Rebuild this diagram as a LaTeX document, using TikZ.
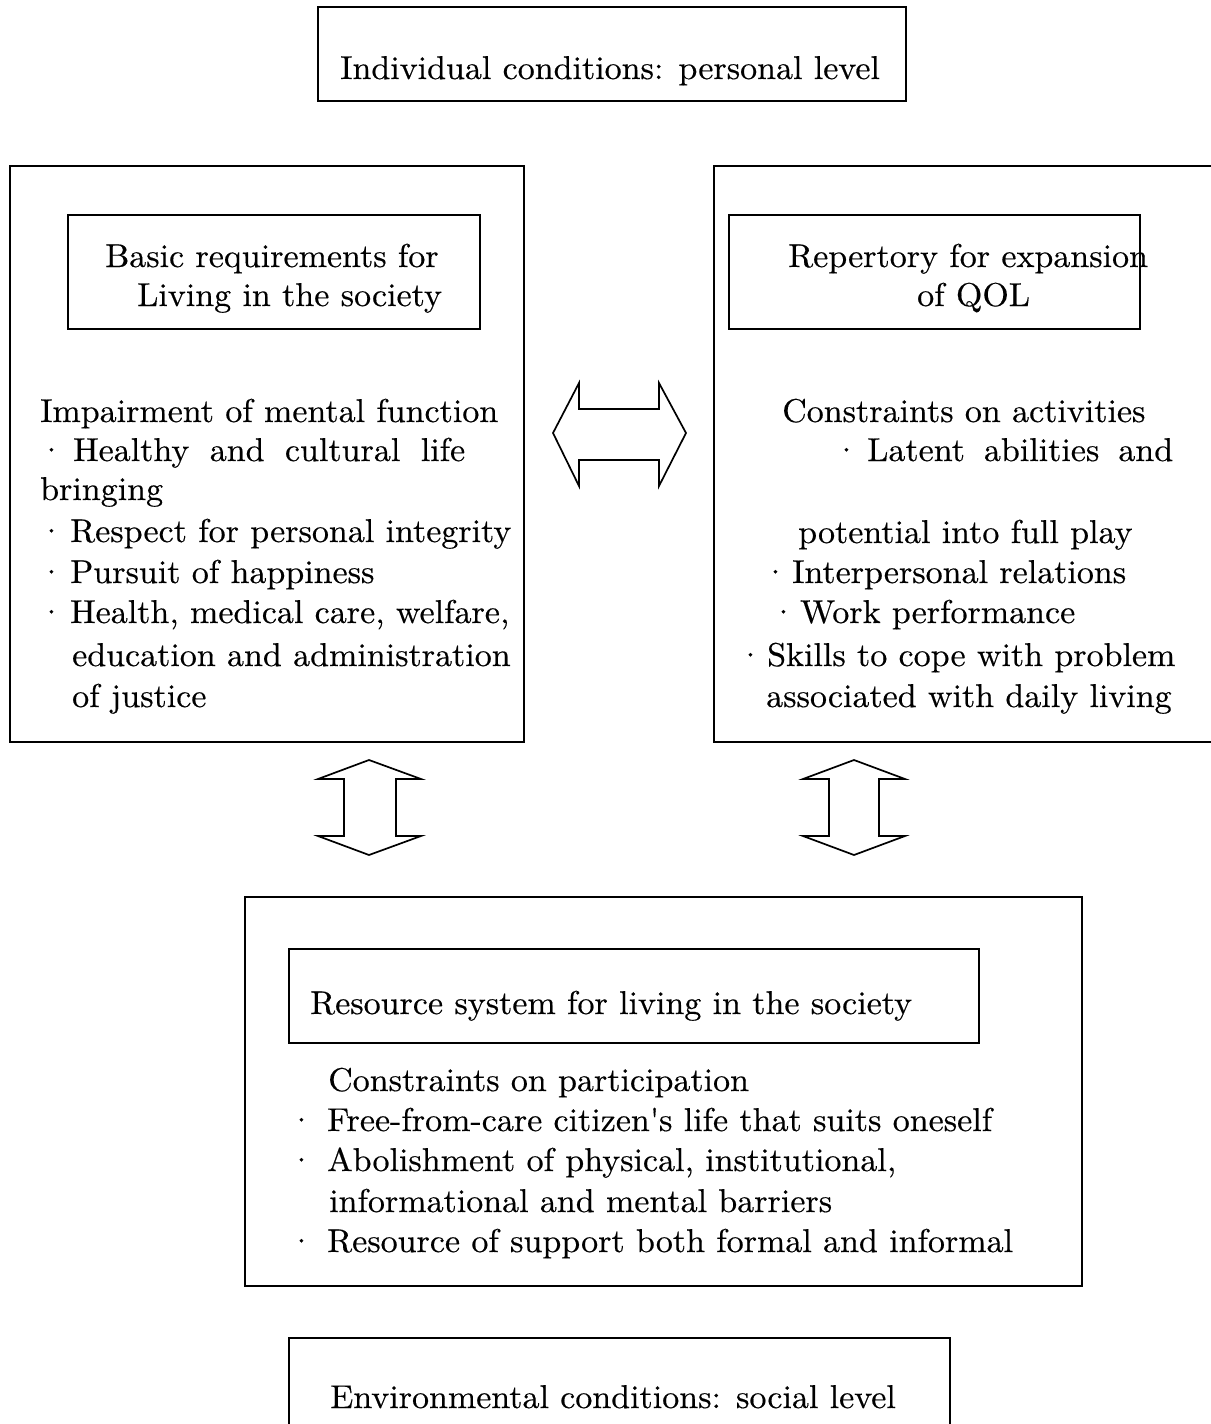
\documentclass[tikz,border=0pt]{standalone}
\usepackage{fontspec}
\setmainfont{lmroman10-regular.otf}[FakeStretch=1.03, FakeBold=0.4]
\newcommand\dotpre[1]{\makebox[#1][l]{·}}
\begin{document}
\begin{tikzpicture}[x=1pt,y=-1pt,
  frame/.style={draw=black, line width=1.7pt, rectangle, inner sep=0pt},
  txt/.style={anchor=base west, inner sep=0pt, font=\fontsize{33}{40}\selectfont},
  blockarrow/.style={draw=black, line width=1.7pt, fill=white, line join=miter}]
\useasboundingbox (0,0) rectangle (1210,1424);
% boxes
\node[frame, minimum width=588pt, minimum height=94pt] (top) at (612,54) {};
\node[frame, minimum width=514pt, minimum height=576pt] (left) at (267,454) {};
\node[frame, minimum width=511pt, minimum height=576pt] (right) at (969.5,454) {};
\node[frame, minimum width=412pt, minimum height=114pt] (leftin) at (274,272) {};
\node[frame, minimum width=411pt, minimum height=114pt] (rightin) at (934.5,272) {};
\node[frame, minimum width=837pt, minimum height=389pt] (bottom) at (663.5,1091.5) {};
\node[frame, minimum width=690pt, minimum height=94pt] (bottomin) at (634,996) {};
\node[frame, minimum width=661pt, minimum height=102pt] (env) at (619.5,1389) {};
% top text
\node[txt] (t1) at (340,79) {Individual conditions: personal level};
% left inner
\node[txt] (l1) at (105,267) {Basic requirements for};
\node[txt] (l2) at (137,306) {Living in the society};
% right inner
\node[txt] (r1) at (788,267) {Repertory for expansion};
\node[txt] (r2) at (917,306) {of QOL};
% left body
\node[txt] (a1) at (40,422) {Impairment of mental function};
\node[txt] (a2) at (38,461) {\dotpre{35pt}\makebox[392pt][s]{Healthy and cultural life}};
\node[txt] (a3) at (40,500) {bringing};
\node[txt] (a4) at (38,542) {\dotpre{32pt}Respect for personal integrity};
\node[txt] (a5) at (38,583) {\dotpre{32pt}Pursuit of happiness};
\node[txt] (a6) at (38,623) {\dotpre{32pt}Health, medical care, welfare,};
\node[txt] (a7) at (72,666) {education and administration};
\node[txt] (a8) at (72,707) {of justice};
% right body
\node[txt] (b1) at (782,422) {Constraints on activities};
\node[txt] (b2) at (833,461) {\dotpre{34pt}\makebox[306pt][s]{Latent abilities and}};
\node[txt] (b3) at (798,543) {potential into full play};
\node[txt] (b4) at (762,583) {\dotpre{30pt}Interpersonal relations};
\node[txt] (b5) at (770,623) {\dotpre{30pt}Work performance};
\node[txt] (b6) at (737,666) {\dotpre{30pt}Skills to cope with problem};
\node[txt] (b7) at (766,707) {associated with daily living};
% bottom
\node[txt] (c0) at (310,1014) {Resource system for living in the society};
\node[txt] (c1) at (328,1091) {Constraints on participation};
\node[txt] (c2) at (288,1131) {\dotpre{39pt}Free-from-care citizen\textquotesingle s life that suits oneself};
\node[txt] (c3) at (288,1171) {\dotpre{39pt}Abolishment of physical, institutional,};
\node[txt] (c4) at (329,1212) {informational and mental barriers};
\node[txt] (c5) at (288,1252) {\dotpre{39pt}Resource of support both formal and informal};
% env
\node[txt] (e1) at (330,1408) {Environmental conditions: social level};
% block arrows
\draw[blockarrow] (553,433) -- (579,383) -- (579,409) -- (659,409) -- (659,383) -- (686,433)
  -- (659,486) -- (659,460) -- (579,460) -- (579,486) -- cycle;
\draw[blockarrow] (369,760) -- (421,779) -- (396,779) -- (396,836) -- (421,836) -- (369,855)
  -- (318,836) -- (344,836) -- (344,779) -- (318,779) -- cycle;
\draw[blockarrow] (854,760) -- (905,779) -- (879,779) -- (879,836) -- (905,836) -- (854,855)
  -- (803,836) -- (829,836) -- (829,779) -- (803,779) -- cycle;
\end{tikzpicture}
\end{document}
